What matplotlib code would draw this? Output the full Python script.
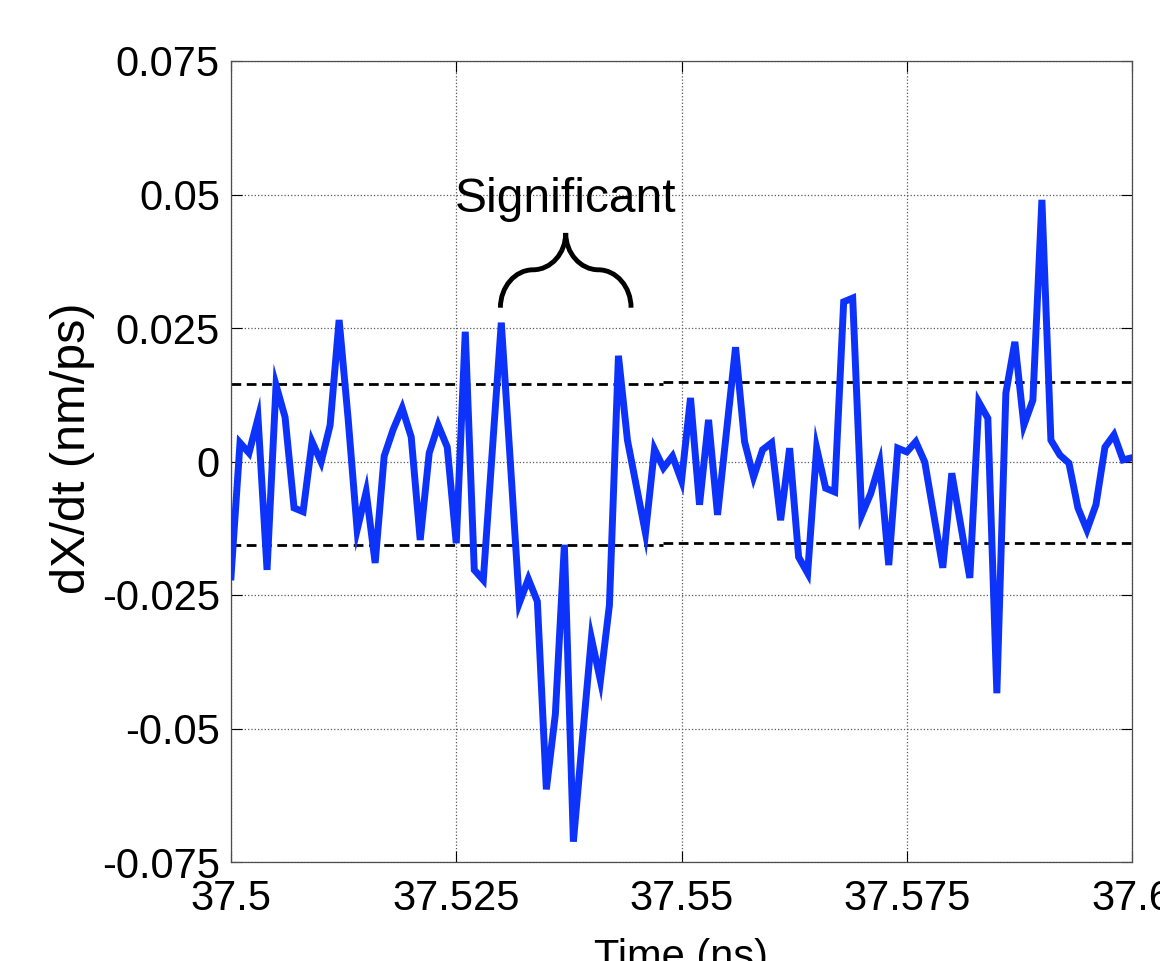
import numpy as np
import matplotlib
matplotlib.use("Agg")
import matplotlib.pyplot as plt
from matplotlib.path import Path
from matplotlib.patches import PathPatch

plt.rcParams['font.family'] = ['Liberation Sans', 'DejaVu Sans']

# dX/dt samples, one per ps from 37.5 ns to 37.6 ns
velocity = [
    -0.0216, 0.0035, 0.0016, 0.0081, -0.0203, 0.0143, 0.0083, -0.0087, -0.0094, 0.0037,
    -0.0001, 0.0068, 0.0265, 0.0080, -0.0128, -0.0057, -0.0190, 0.0010, 0.0060, 0.0100,
    0.0046, -0.0147, 0.0016, 0.0068, 0.0027, -0.0153, 0.0243, -0.0203, -0.0222, 0.0020,
    0.0260, 0.0000, -0.0265, -0.0220, -0.0262, -0.0614, -0.0473, -0.0156, -0.0712, -0.0520,
    -0.0331, -0.0410, -0.0269, 0.0198, 0.0040, -0.0047, -0.0134, 0.0023, -0.0012, 0.0010,
    -0.0036, 0.0119, -0.0081, 0.0078, -0.0100, 0.0057, 0.0214, 0.0037, -0.0029, 0.0022,
    0.0035, -0.0110, 0.0025, -0.0179, -0.0209, 0.0025, -0.0050, -0.0057, 0.0299, 0.0306,
    -0.0100, -0.0060, -0.0003, -0.0194, 0.0025, 0.0018, 0.0037, -0.0001, -0.0100, -0.0199,
    -0.0022, -0.0120, -0.0218, 0.0111, 0.0081, -0.0434, 0.0128, 0.0224, 0.0068, 0.0115,
    0.0490, 0.0040, 0.0012, -0.0003, -0.0087, -0.0128, -0.0081, 0.0027, 0.0050, 0.0003,
    0.0007,
]
time = np.linspace(37.5, 37.6, len(velocity))

# significance thresholds (two halves, slightly different)
thr_split = 37.548
upper_thr = [0.0145, 0.0148]
lower_thr = [-0.0157, -0.0153]

xticks = [37.5, 37.525, 37.55, 37.575, 37.6]
xticklabels = ['37.5', '37.525', '37.55', '37.575', '37.6']
yticks = [-0.075, -0.05, -0.025, 0, 0.025, 0.05, 0.075]
yticklabels = ['-0.075', '-0.05', '-0.025', '0', '0.025', '0.05', '0.075']

# brace over the significant region
brace_left, brace_right = 37.5299, 37.5444
brace_base, brace_shoulder, brace_top = 0.0288, 0.0359, 0.0428

fig = plt.figure(figsize=(11.6, 9.61), dpi=100)
ax = fig.add_axes([231 / 1160, 1 - 862 / 961, 901 / 1160, 801 / 961])

ax.plot(time, velocity, color=(0.05, 0.2, 0.98), lw=5, solid_joinstyle='miter', zorder=3)

dash = (0, (3.5, 2))
ax.plot([37.5, thr_split], [upper_thr[0]] * 2, color='black', lw=2, ls=dash, zorder=2)
ax.plot([thr_split, 37.6], [upper_thr[1]] * 2, color='black', lw=2, ls=dash, zorder=2)
ax.plot([37.5, thr_split], [lower_thr[0]] * 2, color='black', lw=2, ls=dash, zorder=2)
ax.plot([thr_split, 37.6], [lower_thr[1]] * 2, color='black', lw=2, ls=dash, zorder=2)

# curly brace
xc = (brace_left + brace_right) / 2
xs1 = (brace_left + xc) / 2
xs2 = (brace_right + xc) / 2
k = 0.55
verts = [
    (brace_left, brace_base),
    (brace_left, brace_base + k * (brace_shoulder - brace_base)),
    (xs1 - k * (xs1 - brace_left), brace_shoulder),
    (xs1, brace_shoulder),
    (xs1 + k * (xc - xs1), brace_shoulder),
    (xc, brace_top - k * (brace_top - brace_shoulder)),
    (xc, brace_top),
    (xc, brace_top - k * (brace_top - brace_shoulder)),
    (xs2 - k * (xs2 - xc), brace_shoulder),
    (xs2, brace_shoulder),
    (xs2 + k * (brace_right - xs2), brace_shoulder),
    (brace_right, brace_base + k * (brace_shoulder - brace_base)),
    (brace_right, brace_base),
]
codes = [Path.MOVETO] + [Path.CURVE4] * 12
ax.add_patch(PathPatch(Path(verts, codes), facecolor='none', edgecolor='black',
                       lw=3.5, capstyle='butt', zorder=4))
ax.text(xc, 0.0448, 'Significant', ha='center', va='bottom', fontsize=34.5)

ax.set_xlim(37.5, 37.6)
ax.set_ylim(-0.075, 0.075)
ax.set_xticks(xticks)
ax.set_xticklabels(xticklabels)
ax.set_yticks(yticks)
ax.set_yticklabels(yticklabels)
ax.tick_params(axis='both', direction='in', length=8, width=0.8, top=True, right=True,
               labelsize=30, colors='black')
ax.tick_params(axis='x', pad=12)
ax.tick_params(axis='y', pad=8)
ax.grid(True, ls=':', color='0.35', lw=0.9)
for s in ax.spines.values():
    s.set_color('0.3')
    s.set_linewidth(0.9)

ax.set_xlabel('Time (ns)', fontsize=30, labelpad=14)
ax.set_ylabel('dX/dt (nm/ps)', fontsize=35)
ax.yaxis.set_label_coords(-0.151, 0.517)

fig.savefig('out.png', dpi=100)
